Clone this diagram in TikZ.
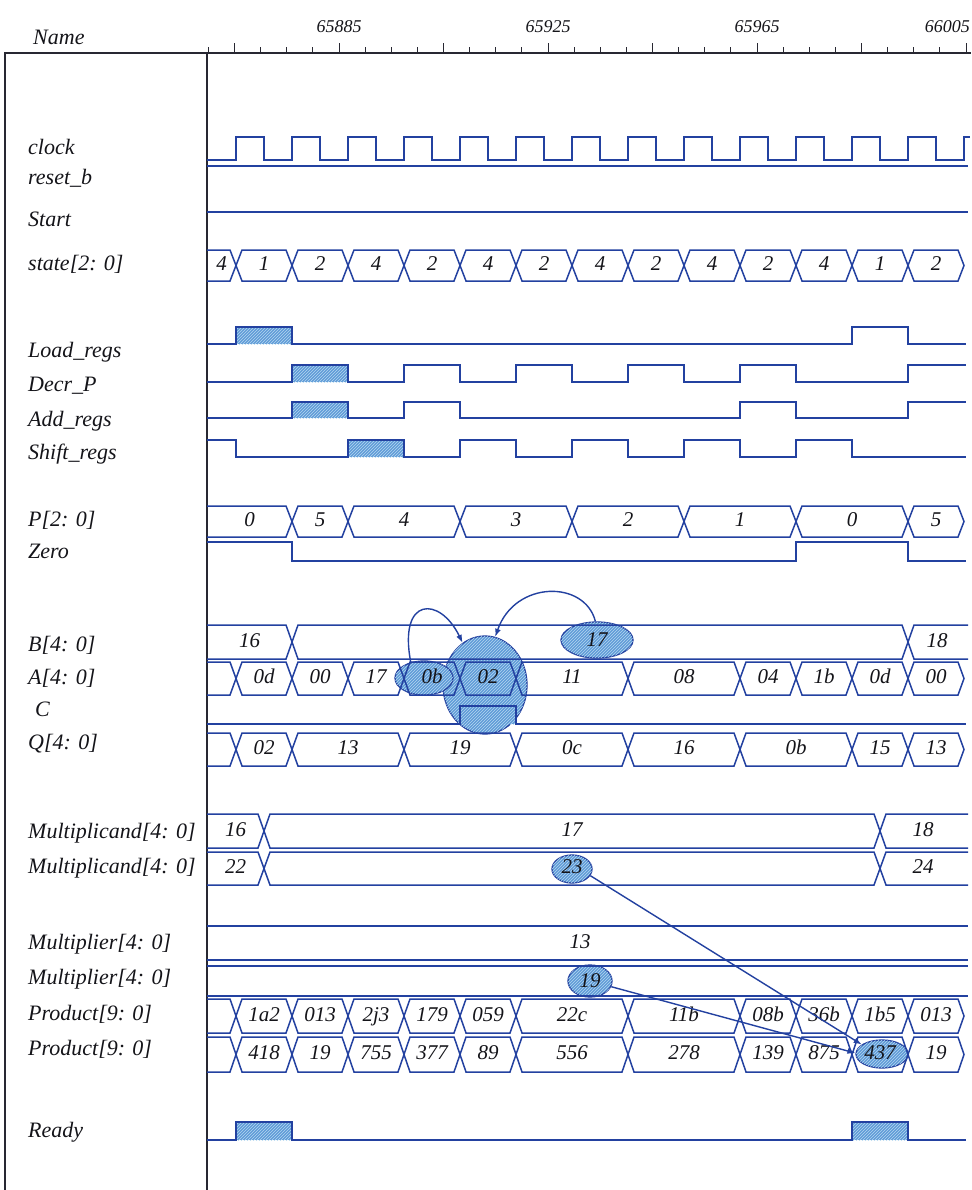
\documentclass[tikz,border=0pt]{standalone}
\usepackage{fontspec}
\setmainfont{Liberation Serif}
\usetikzlibrary{patterns,arrows.meta,shapes.geometric}
\definecolor{wv}{RGB}{35,65,160}
\definecolor{frm}{RGB}{40,40,50}
\definecolor{hb}{RGB}{95,155,215}
\definecolor{hl}{RGB}{180,215,240}
\definecolor{txt}{RGB}{20,20,25}
\tikzset{
 wave/.style={draw=wv, line width=1.6pt, line join=miter},
 bus/.style={draw=wv, line width=1.5pt, line join=miter},
 frame/.style={draw=frm, line width=1.4pt},
 lab/.style={anchor=west, font=\fontsize{22}{26}\selectfont\itshape, text=txt, inner sep=0pt, text height=15pt, text depth=5pt},
 val/.style={font=\fontsize{21}{24}\selectfont\itshape, text=txt, inner sep=0pt, text height=14pt, text depth=4pt},
 stamp/.style={font=\fontsize{18}{22}\selectfont\itshape, text=txt, inner sep=0pt},
 hatch/.style={fill=hb, postaction={pattern=north east lines, pattern color=hl}},
 hilite/.style={ellipse, draw=wv, line width=1.3pt, fill=hb, postaction={pattern=north east lines, pattern color=hl}, inner sep=0pt, font=\fontsize{21}{24}\selectfont\itshape, text=txt},
 arr/.style={draw=wv, line width=1.4pt, -{Latex[length=8pt,width=6pt]}}
}
\newcommand{\bxs}[6]{%
  \draw[bus] (#1,{(#3+#4)/2}) -- (#1+6,#3) -- (#2-6,#3) -- (#2,{(#3+#4)/2}) -- (#2-6,#4) -- (#1+6,#4) -- cycle;
  \node[val] (#6) at ({(#1+#2)/2},{(#3+#4)/2}) {#5};}
\newcommand{\bxe}[4]{%
  \draw[bus] (#1,{(#3+#4)/2}) -- (#1+6,#3) -- (#2-6,#3) -- (#2,{(#3+#4)/2}) -- (#2-6,#4) -- (#1+6,#4) -- cycle;}
\newcommand{\bxl}[5]{%
  \draw[bus] (207,#2) -- (#1-6,#2) -- (#1,{(#2+#3)/2}) -- (#1-6,#3) -- (207,#3);
  \node[val] (#5) at ({(207+#1)/2},{(#2+#3)/2}) {#4};}
\newcommand{\bxle}[3]{%
  \draw[bus] (207,#2) -- (#1-6,#2) -- (#1,{(#2+#3)/2}) -- (#1-6,#3) -- (207,#3);}
\newcommand{\bxr}[5]{%
  \draw[bus] (968,#2) -- (#1+6,#2) -- (#1,{(#2+#3)/2}) -- (#1+6,#3) -- (968,#3);
  \node[val] (#5) at ({(#1+966)/2},{(#2+#3)/2}) {#4};}
\begin{document}
\begin{tikzpicture}[x=1pt,y=-1pt]
\useasboundingbox (0,0) rectangle (971,1190);
\fill[white] (0,0) rectangle (971,1190);

% highlights (behind the traces)
\node[hilite, minimum width=84pt, minimum height=98pt] (big) at (485,685) {};
\node[hilite, minimum width=58pt, minimum height=34pt] (e0b) at (424,678) {};
\node[hilite, minimum width=72pt, minimum height=36pt] (e17) at (597,640) {17};
\node[hilite, minimum width=40pt, minimum height=28pt] (e23) at (572,869) {};
\node[hilite, minimum width=44pt, minimum height=32pt] (e19) at (590,981) {19};
\node[hilite, minimum width=52pt, minimum height=28pt] (e437) at (882,1054) {};

% frame and ruler
\draw[frame] (5,1190) -- (5,53) -- (971,53);
\draw[frame] (207,53) -- (207,1190);
\foreach \n in {-5,...,24} { \draw[frm, line width=1pt] ({339+26.125*\n},53) -- ({339+26.125*\n},47); }
\foreach \n in {-4,0,4,8,12,16,20,24} { \draw[frm, line width=1pt] ({339+26.125*\n},53) -- ({339+26.125*\n},43); }
\node[stamp] (t1) at (339,27) {65885};
\node[stamp] (t2) at (548,27) {65925};
\node[stamp] (t3) at (757,27) {65965};
\node[stamp, anchor=east] (t4) at (970,27) {66005};
\node[lab] (hname) at (33,40) {Name};

% labels
\node[lab] (lclk) at (28,150) {clock};
\node[lab] (lrst) at (28,180) {reset\_b};
\node[lab] (lstart) at (28,222) {Start};
\node[lab] (lstate) at (28,265) {state[2: 0]};
\node[lab] (lload) at (28,352) {Load\_regs};
\node[lab] (ldecr) at (28,386) {Decr\_P};
\node[lab] (ladd) at (28,421) {Add\_regs};
\node[lab] (lshift) at (28,454) {Shift\_regs};
\node[lab] (lp) at (28,521) {P[2: 0]};
\node[lab] (lzero) at (28,553) {Zero};
\node[lab] (lb) at (28,646) {B[4: 0]};
\node[lab] (la) at (28,679) {A[4: 0]};
\node[lab] (lc) at (35,711) {C};
\node[lab] (lq) at (28,744) {Q[4: 0]};
\node[lab] (lm1) at (28,833) {Multiplicand[4: 0]};
\node[lab] (lm2) at (28,868) {Multiplicand[4: 0]};
\node[lab] (lr1) at (28,944) {Multiplier[4: 0]};
\node[lab] (lr2) at (28,979) {Multiplier[4: 0]};
\node[lab] (lpr1) at (28,1015) {Product[9: 0]};
\node[lab] (lpr2) at (28,1050) {Product[9: 0]};
\node[lab] (lready) at (28,1132) {Ready};

% hatched pulses
\fill[hatch] (236,327) rectangle (292,344);
\fill[hatch] (292,365) rectangle (348,382);
\fill[hatch] (292,402) rectangle (348,418);
\fill[hatch] (348,440) rectangle (404,457);
\fill[hatch] (460,706) rectangle (516,724);
\fill[hatch] (236,1122) rectangle (292,1140);
\fill[hatch] (852,1122) rectangle (908,1140);

% clock, reset_b, Start
\draw[wave] (207,160) -- (236,160) foreach \k in {0,...,12} { -- ({236+56*\k},137) -- ({264+56*\k},137) -- ({264+56*\k},160) -- ({292+56*\k},160) } -- (964,137) -- (970,137);
\draw[wave] (207,166) -- (968,166);
\draw[wave] (207,212) -- (968,212);

% state
\bxl{236}{250}{281}{4}{s0}
\bxs{236}{292}{250}{281}{1}{s1}
\bxs{292}{348}{250}{281}{2}{s2}
\bxs{348}{404}{250}{281}{4}{s3}
\bxs{404}{460}{250}{281}{2}{s4}
\bxs{460}{516}{250}{281}{4}{s5}
\bxs{516}{572}{250}{281}{2}{s6}
\bxs{572}{628}{250}{281}{4}{s7}
\bxs{628}{684}{250}{281}{2}{s8}
\bxs{684}{740}{250}{281}{4}{s9}
\bxs{740}{796}{250}{281}{2}{s10}
\bxs{796}{852}{250}{281}{4}{s11}
\bxs{852}{908}{250}{281}{1}{s12}
\bxs{908}{964}{250}{281}{2}{s13}

% control signals
\draw[wave] (207,344) -- (236,344) -- (236,327) -- (292,327) -- (292,344) -- (852,344) -- (852,327) -- (908,327) -- (908,344) -- (966,344);
\draw[wave] (207,382) -- (292,382) -- (292,365) -- (348,365) -- (348,382) -- (404,382) -- (404,365) -- (460,365) -- (460,382) -- (516,382) -- (516,365) -- (572,365) -- (572,382) -- (628,382) -- (628,365) -- (684,365) -- (684,382) -- (740,382) -- (740,365) -- (796,365) -- (796,382) -- (908,382) -- (908,365) -- (966,365);
\draw[wave] (207,418) -- (292,418) -- (292,402) -- (348,402) -- (348,418) -- (404,418) -- (404,402) -- (460,402) -- (460,418) -- (740,418) -- (740,402) -- (796,402) -- (796,418) -- (908,418) -- (908,402) -- (966,402);
\draw[wave] (207,440) -- (236,440) -- (236,457) -- (348,457) -- (348,440) -- (404,440) -- (404,457) -- (460,457) -- (460,440) -- (516,440) -- (516,457) -- (572,457) -- (572,440) -- (628,440) -- (628,457) -- (684,457) -- (684,440) -- (740,440) -- (740,457) -- (796,457) -- (796,440) -- (852,440) -- (852,457) -- (966,457);

% P and Zero
\bxl{292}{506}{537}{0}{p0}
\bxs{292}{348}{506}{537}{5}{p1}
\bxs{348}{460}{506}{537}{4}{p2}
\bxs{460}{572}{506}{537}{3}{p3}
\bxs{572}{684}{506}{537}{2}{p4}
\bxs{684}{796}{506}{537}{1}{p5}
\bxs{796}{908}{506}{537}{0}{p6}
\bxs{908}{964}{506}{537}{5}{p7}
\draw[wave] (207,542) -- (292,542) -- (292,561) -- (796,561) -- (796,542) -- (908,542) -- (908,561) -- (966,561);

% B
\bxl{292}{625}{659}{16}{b0}
\bxe{292}{908}{625}{659}
\bxr{908}{625}{659}{18}{b2}
% A
\bxle{236}{662}{695}
\bxs{236}{292}{662}{695}{0d}{a1}
\bxs{292}{348}{662}{695}{00}{a2}
\bxs{348}{404}{662}{695}{17}{a3}
\bxs{404}{460}{662}{695}{0b}{a4}
\bxs{460}{516}{662}{695}{02}{a5}
\bxs{516}{628}{662}{695}{11}{a6}
\bxs{628}{740}{662}{695}{08}{a7}
\bxs{740}{796}{662}{695}{04}{a8}
\bxs{796}{852}{662}{695}{1b}{a9}
\bxs{852}{908}{662}{695}{0d}{a10}
\bxs{908}{964}{662}{695}{00}{a11}
% C
\draw[wave] (207,724) -- (460,724) -- (460,706) -- (516,706) -- (516,724) -- (966,724);
% Q
\bxle{236}{733}{766}
\bxs{236}{292}{733}{766}{02}{q1}
\bxs{292}{404}{733}{766}{13}{q2}
\bxs{404}{516}{733}{766}{19}{q3}
\bxs{516}{628}{733}{766}{0c}{q4}
\bxs{628}{740}{733}{766}{16}{q5}
\bxs{740}{852}{733}{766}{0b}{q6}
\bxs{852}{908}{733}{766}{15}{q7}
\bxs{908}{964}{733}{766}{13}{q8}

% Multiplicand
\bxl{264}{814}{848}{16}{m0}
\bxs{264}{880}{814}{848}{17}{m1}
\bxr{880}{814}{848}{18}{m2}
\bxl{264}{852}{885}{22}{n0}
\bxs{264}{880}{852}{885}{23}{n1}
\bxr{880}{852}{885}{24}{n2}

% Multiplier
\draw[bus] (207,926) -- (968,926);
\draw[bus] (207,960) -- (968,960);
\node[val] (r1) at (580,943) {13};
\draw[bus] (207,966) -- (968,966);
\draw[bus] (207,996) -- (968,996);

% Product
\bxle{236}{999}{1033}
\bxs{236}{292}{999}{1033}{1a2}{u1}
\bxs{292}{348}{999}{1033}{013}{u2}
\bxs{348}{404}{999}{1033}{2j3}{u3}
\bxs{404}{460}{999}{1033}{179}{u4}
\bxs{460}{516}{999}{1033}{059}{u5}
\bxs{516}{628}{999}{1033}{22c}{u6}
\bxs{628}{740}{999}{1033}{11b}{u7}
\bxs{740}{796}{999}{1033}{08b}{u8}
\bxs{796}{852}{999}{1033}{36b}{u9}
\bxs{852}{908}{999}{1033}{1b5}{u10}
\bxs{908}{964}{999}{1033}{013}{u11}
\bxle{236}{1037}{1072}
\bxs{236}{292}{1037}{1072}{418}{v1}
\bxs{292}{348}{1037}{1072}{19}{v2}
\bxs{348}{404}{1037}{1072}{755}{v3}
\bxs{404}{460}{1037}{1072}{377}{v4}
\bxs{460}{516}{1037}{1072}{89}{v5}
\bxs{516}{628}{1037}{1072}{556}{v6}
\bxs{628}{740}{1037}{1072}{278}{v7}
\bxs{740}{796}{1037}{1072}{139}{v8}
\bxs{796}{852}{1037}{1072}{875}{v9}
\bxs{852}{908}{1037}{1072}{437}{v10}
\bxs{908}{964}{1037}{1072}{19}{v11}

% Ready
\draw[wave] (207,1140) -- (236,1140) -- (236,1122) -- (292,1122) -- (292,1140) -- (852,1140) -- (852,1122) -- (908,1122) -- (908,1140) -- (966,1140);

% annotation arrows
\draw[arr] (e0b.130) .. controls (398,596) and (440,596) .. (big.118);
\draw[arr] (e17.95) .. controls (585,580) and (515,580) .. (big.78);
\draw[arr] (e23.-20) -- (e437.155);
\draw[arr] (e19.-15) -- (e437.178);
\end{tikzpicture}
\end{document}
